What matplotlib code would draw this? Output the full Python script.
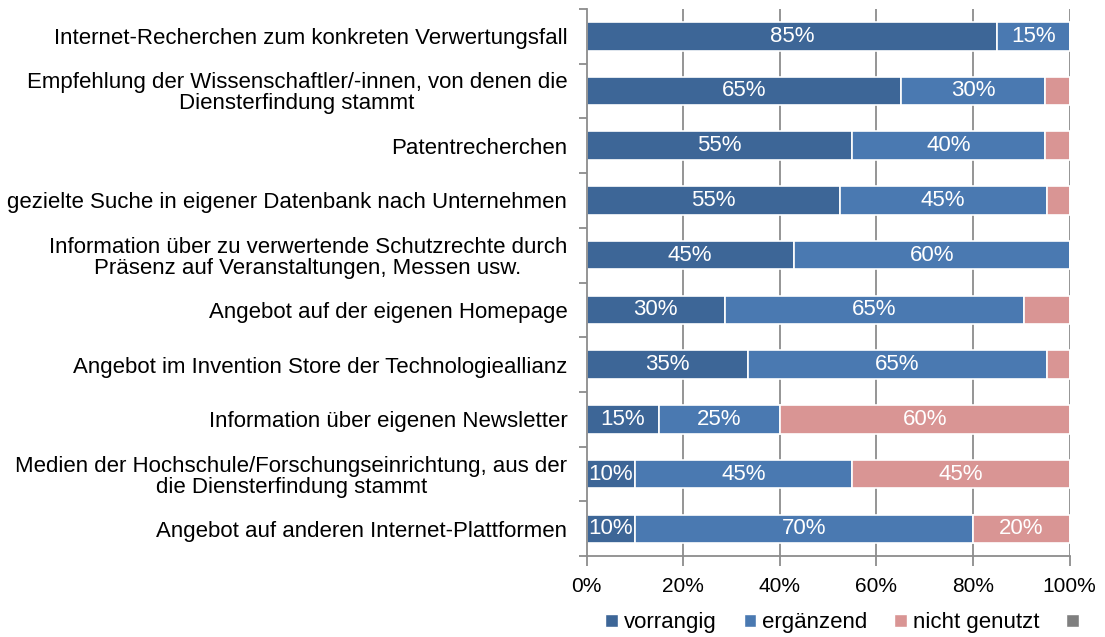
import matplotlib
matplotlib.use("Agg")
import matplotlib.pyplot as plt
from matplotlib.patches import Patch
import numpy as np

plt.rcParams["font.family"] = ["Liberation Sans", "DejaVu Sans"]

# Kategorien von oben nach unten
categories = [
    "Internet-Recherchen zum konkreten Verwertungsfall",
    "Empfehlung der Wissenschaftler/-innen, von denen die\nDiensterfindung stammt",
    "Patentrecherchen",
    "gezielte Suche in eigener Datenbank nach Unternehmen",
    "Information über zu verwertende Schutzrechte durch\nPräsenz auf Veranstaltungen, Messen usw.",
    "Angebot auf der eigenen Homepage",
    "Angebot im Invention Store der Technologieallianz",
    "Information über eigenen Newsletter",
    "Medien der Hochschule/Forschungseinrichtung, aus der\ndie Diensterfindung stammt",
    "Angebot auf anderen Internet-Plattformen",
]
vorrangig = [85, 65, 55, 55, 45, 30, 35, 15, 10, 10]
ergaenzend = [15, 30, 40, 45, 60, 65, 65, 25, 45, 70]
nicht_genutzt = [0, 5, 5, 5, 0, 10, 5, 60, 45, 20]
keine_angabe = [0, 0, 0, 0, 0, 0, 0, 0, 0, 0]

series = [
    ("vorrangig", vorrangig, "#3d6697", 0),
    ("ergänzend", ergaenzend, "#4a79b1", 0),
    ("nicht genutzt", nicht_genutzt, "#d99594", 15),
    ("", keine_angabe, "#7f7f7f", 15),
]

totals = np.sum([s[1] for s in series], axis=0).astype(float)
y = np.arange(len(categories))

fig = plt.figure(figsize=(11.05, 6.37), dpi=100)
ax = fig.add_axes([0.531, 0.127, 0.437, 0.859])

for x in [20, 40, 60, 80, 100]:
    ax.axvline(x, color="#8c8c8c", linewidth=1.3, zorder=0)

left = np.zeros(len(categories))
for name, vals, color, min_label in series:
    vals = np.array(vals, dtype=float)
    width = vals / totals * 100
    ax.barh(y, width, left=left, height=0.52, color=color,
            edgecolor="white", linewidth=1.2, zorder=2)
    for i, v in enumerate(vals):
        if v > 0 and v >= min_label:
            ax.text(left[i] + width[i] / 2, y[i], "%d%%" % v, ha="center",
                    va="center", color="white", fontsize=16, zorder=3)
    left += width

ax.set_xlim(0, 100)
ax.set_ylim(len(categories) - 0.5, -0.5)
ax.set_xticks([0, 20, 40, 60, 80, 100])
ax.set_xticklabels(["0%", "20%", "40%", "60%", "80%", "100%"], fontsize=15)
ax.set_yticks(y)
ax.set_yticklabels(categories, fontsize=16, multialignment="center",
                   linespacing=1.0)
ax.set_yticks(np.arange(len(categories) + 1) - 0.5, minor=True)
ax.tick_params(axis="y", which="major", length=0, pad=14)
ax.tick_params(axis="y", which="minor", length=6, color="#8c8c8c", width=1.3)
ax.tick_params(axis="x", length=7, color="#8c8c8c", width=1.3, pad=8)

for side in ["top", "right"]:
    ax.spines[side].set_visible(False)
for side in ["left", "bottom"]:
    ax.spines[side].set_color("#8c8c8c")
    ax.spines[side].set_linewidth(1.3)

handles = [Patch(facecolor=c, edgecolor="white", label=n) for n, _, c, _ in series]
fig.legend(handles=handles, loc="center", bbox_to_anchor=(0.765, 0.022),
           ncol=4, frameon=False, fontsize=16, handlelength=0.55,
           handleheight=0.55, handletextpad=0.3, columnspacing=1.2)

fig.savefig("out.png", dpi=100)
